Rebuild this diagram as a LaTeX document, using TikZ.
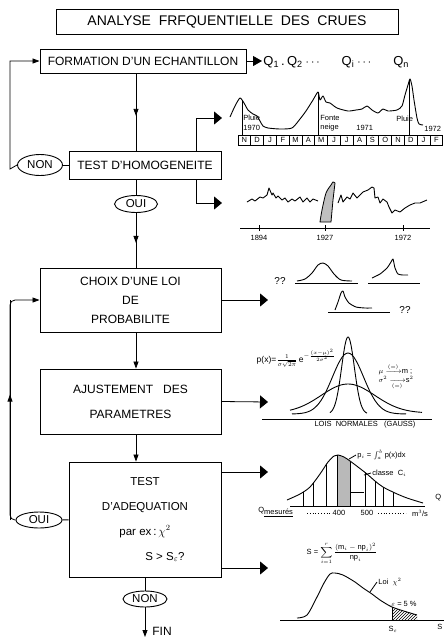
\documentclass[tikz,border=0pt]{standalone}
\usepackage{amsmath}
\usepackage{fontspec}
\setmainfont{Liberation Sans}
\usetikzlibrary{arrows.meta,shapes.geometric,decorations.markings,patterns}
\tikzset{
  box/.style={draw,line width=0.9pt,align=center,inner sep=0pt,font=\fontsize{12}{19}\selectfont},
  yesno/.style={draw,ellipse,line width=0.9pt,inner sep=0pt,font=\fontsize{11.5}{12}\selectfont},
  tip/.style={-{Triangle[length=7pt,width=5pt]}},
  bigtip/.style={-{Triangle[length=8pt,width=13pt]}},
  midtip/.style={postaction={decorate},decoration={markings,mark=at position #1 with {\arrow{Triangle[length=7pt,width=5pt]}}}},
  small/.style={inner sep=0pt,font=\fontsize{7.5}{8}\selectfont},
  curve/.style={line width=0.9pt,line join=round},
}
\begin{document}
\begin{tikzpicture}[x=1pt,y=-1pt,line width=0.8pt]
  \useasboundingbox (0,0) rectangle (444,641);
  \node[box,minimum width=342pt,minimum height=25pt,font=\fontsize{14}{16}\selectfont] (titre) at (227,21.5) {ANALYSE\ \ FRFQUENTIELLE\ \ DES\ \ CRUES};
  \node[box,minimum width=206pt,minimum height=24pt] (form) at (143,61) {FORMATION D'UN ECHANTILLON};
  \node[anchor=west,inner sep=1pt,font=\fontsize{13}{14}\selectfont] (qs) at (262,62) {Q\textsubscript{1}\,.\,Q\textsubscript{2}\hspace{3pt}$\cdots$\hspace{20pt}Q\textsubscript{i}\hspace{3pt}$\cdots$\hspace{20pt}Q\textsubscript{n}};
  \node[box,minimum width=152pt,minimum height=28pt] (homog) at (145,165) {TEST D'HOMOGENEITE};
  \node[yesno,minimum width=45pt,minimum height=21pt] (non1) at (40,165) {NON};
  \node[yesno,minimum width=43pt,minimum height=17pt] (oui1) at (136,204) {OUI};
  \node[box,minimum width=181pt,minimum height=64pt] (choix) at (130.5,300) {CHOIX D'UNE LOI\\DE\\PROBABILITE};
  \node[box,minimum width=181pt,minimum height=65pt,font=\fontsize{12}{25}\selectfont] (ajust) at (130.5,401.5) {AJUSTEMENT\ \ \ DES\\PARAMETRES};
  \node[box,minimum width=152pt,minimum height=115pt,font=\fontsize{11.5}{25}\selectfont] (adeq) at (145,519.5) {TEST\\D'ADEQUATION\\par ex\,:\,$\chi^2$\hspace{28pt}\\\hspace{40pt}S > S$_{\varepsilon}$?};
  \node[yesno,minimum width=46pt,minimum height=16pt] (oui2) at (39,520) {OUI};
  \node[yesno,minimum width=44pt,minimum height=16pt] (non2) at (145,599) {NON};
  \node[anchor=west,inner sep=0pt,font=\fontsize{12}{14}\selectfont] (fin) at (152,631) {FIN};
  \coordinate (finpt) at (145,637);
  \coordinate (g1) at (10,61);
  \coordinate (g2) at (10,300);
  \coordinate (g3) at (10,520);
  \coordinate (h1) at (196,118);
  \coordinate (h2) at (196,203);
  \coordinate (c1) at (222,118);
  \coordinate (c2) at (222,203);
  \coordinate (c3) at (268,300);
  \coordinate (c4) at (268,402);
  \coordinate (c5) at (268,472);
  \coordinate (c6) at (268,568);
  \draw[midtip=0.55] (form.south -| oui1) -- (homog.north -| oui1);
  \draw (homog.south -| oui1) -- (oui1);
  \draw[midtip=0.55] (oui1) -- (choix.north -| oui1);
  \draw[tip] (choix.south -| oui1) -- (ajust.north -| oui1);
  \draw[tip] (ajust.south -| oui1) -- (adeq.north -| oui1);
  \draw (adeq.south -| non2) -- (non2);
  \draw[tip] (non2) -- (finpt);
  \draw (non1) -- (homog);
  \draw (oui2) -- (adeq);
  \draw[tip] (non1.west) -- ([yshift=-4pt]g1 |- non1.west) to[out=90,in=-90] (g1) -- (form.west);
  \draw[tip,rounded corners=5pt] (oui2.west) -| (g2) -- (choix.west);
  \draw[midtip=0.57] (g3) -- (g2);
  \draw[-{Triangle[length=9pt,width=10pt]}] (form.east) -- (qs.west |- form.east);
  \draw[bigtip] (homog.north -| h1) -- (h1) -- (c1);
  \draw[bigtip] (homog.south -| h2) -- (h2) -- (c2);
  \draw[bigtip] (choix.east) -- (c3);
  \draw[bigtip] (ajust.east) -- (c4);
  \draw[bigtip] (adeq.east |- c5) -- (c5);
  \draw[bigtip] (adeq.east |- c6) -- (c6);
  % hydrogramme
  \draw[curve] plot[smooth,tension=0.4] coordinates {(230,117) (235,106) (240,98) (244,103) (248,110) (253,114) (257,116) (260,121) (263,126) (268,128) (280,129) (292,128) (300,119) (306,111) (313,100) (318,92) (320,100) (323,96) (326,102) (330,103) (337,108) (348,111) (356,110) (362,109) (367,106) (372,110) (378,113) (383,109) (388,111) (397,110) (402,106) (405,95) (408,85) (410,79) (412,86) (414,100) (417,118) (419,124) (423,125)};
  \foreach \m [count=\i from 0] in {N,D,J,F,M,A,M,J,J,A,S,O,N,D,J,F} {
    \draw (238+\i*12.8,135) rectangle ++(12.8,10);
    \node[small] at (244.4+\i*12.8,140) {\m};
  }
  \foreach \xm/\ym in {242/100,318/92,409/80} \draw (\xm,\ym) -- (\xm,135);
  \node[small,anchor=west] at (243,118) {Pluie};
  \node[small,anchor=west] at (243,128) {1970};
  \node[small,anchor=west] at (320,118) {Fonte};
  \node[small,anchor=west] at (320,128) {neige};
  \node[small,anchor=west] at (356,128) {1971};
  \node[small,anchor=west] at (396,119) {Pluie};
  \node[small,anchor=west] at (424,129) {1972};
  % serie chronologique
  \draw (240,228) -- (430,228);
  \foreach \xa/\an in {259/1894,325/1927,403/1972} {
    \draw (\xa,225) -- (\xa,231);
    \node[small] at (\xa,238) {\an};
  }
  \draw[curve] plot coordinates {(247,202) (252,199) (255,201) (260,197) (263,198) (267,195) (269,188) (272,195) (273,193) (276,198) (278,196) (282,200) (285,198) (288,202) (292,199) (295,201) (300,197) (303,202) (307,198) (310,202) (313,199) (318,201)};
  \draw[fill=gray!50] plot[smooth,tension=0.5] coordinates {(320,222) (322,210) (326,193) (331,185) (333,182) (335,183)} -- (333,200) -- (331,222) -- cycle;
  \draw[curve] plot coordinates {(338,203) (341,195) (343,202) (347,197) (350,199) (353,193) (357,198) (360,195) (363,192) (368,190) (372,187) (374,188) (375,198) (378,197) (380,203) (383,199) (387,202) (389,207) (392,213) (395,210) (400,212) (405,208) (410,205) (415,203) (420,203) (427,200)};
  % lois possibles
  \node[inner sep=0pt,font=\fontsize{10}{11}\selectfont] at (280,281) {??};
  \draw (295,283) -- (358,283);
  \draw[curve] plot[smooth] coordinates {(297,281) (305,279) (312,273) (318,265) (323,263) (328,266) (334,274) (341,280) (352,281)};
  \draw (368,283) -- (420,283);
  \draw[curve] plot[smooth,tension=0.4] coordinates {(372,278) (380,274) (387,268) (391,262) (393,259) (395,268) (398,274) (403,275) (408,275)};
  \draw (328,312) -- (390,312);
  \draw[curve] plot[smooth,tension=0.4] coordinates {(335,310) (338,302) (341,293) (343,291) (345,297) (349,303) (356,307) (365,308) (372,308)};
  \node[inner sep=0pt,font=\fontsize{10}{11}\selectfont] at (405,310) {??};
  % lois normales
  \draw (262,419) -- (432,419);
  \draw[curve] plot[domain=290:422,samples=60,smooth] (\x,{413-29*exp(0-((\x-348)/38)*((\x-348)/38))});
  \draw[curve] plot[domain=292:406,samples=60,smooth] (\x,{414-61*exp(0-((\x-348)/22)*((\x-348)/22))});
  \draw[curve] plot[domain=330:367,samples=50,smooth] (\x,{414-77*exp(0-((\x-348)/9)*((\x-348)/9))});
  \node[small,font=\fontsize{8.5}{9}\selectfont] at (296,358) {p(x)=$\frac{1}{\sigma\sqrt{2\pi}}$\,e$^{-\frac{(x-\mu)^2}{2\sigma^2}}$};
  \node[small,align=left] at (396,377) {$\mu\xrightarrow{(=)}$m\ ;\\[1pt]$\sigma^2\xrightarrow[(=)]{}$s$^2$};
  \node[small] at (365,425) {LOIS\ \ NORMALES\ \ \ (GAUSS)};
  % ajustement
  \begin{scope}
    \clip plot[smooth] coordinates {(287,500) (300,494) (310,487) (320,474) (328,462) (334,456) (338,455) (344,457) (350,461) (358,467) (367,474) (375,481) (383,487) (395,493) (407,498) (423,503)} -- (423,506) -- (287,506) -- cycle;
    \fill[gray!55] (337,440) rectangle (350,506);
    \foreach \xc in {303,313,326,337,350,365,375,383,393} \draw (\xc,440) -- (\xc,506);
  \end{scope}
  \draw[curve] plot[smooth] coordinates {(287,500) (300,494) (310,487) (320,474) (328,462) (334,456) (338,455) (344,457) (350,461) (358,467) (367,474) (375,481) (383,487) (395,493) (407,498) (423,503)};
  \draw (290,506) -- (425,506);
  \draw (351,492) -- (364,492);
  \draw (349,459) -- (356,455);
  \node[small,anchor=west] at (357,455) {p$_i$ = $\int_a^b$ p(x)dx};
  \draw (364,475) -- (371,473);
  \node[small,anchor=west] at (372,473) {classe\ \ C$_i$};
  \node[small,anchor=west] at (435,498) {Q};
  \node[small,anchor=west] at (258,512) {Q\raisebox{-1.5pt}{\underline{mesurés}}};
  \draw[dotted] (307,513) -- (331,513);
  \node[small] at (339,513) {400};
  \node[small] at (367,513) {500};
  \draw[dotted] (378,513) -- (406,513);
  \node[small] at (420,513) {m$^3$/s};
  % test du khi2
  \node[small] at (342,553) {S = $\displaystyle\sum_{i=1}^{r}\frac{(\mathrm{m}_i-\mathrm{np}_i)^2}{\mathrm{np}_i}$};
  \begin{scope}
    \clip plot[smooth] coordinates {(297,618) (307,615) (317,597) (324,583) (330,574) (335,573) (343,575) (355,582) (363,588) (372,594) (380,600) (392,607) (407,612) (417,615)} -- (417,620) -- (297,620) -- cycle;
    \fill[pattern=north east lines] (392,590) rectangle (420,620);
  \end{scope}
  \draw[curve] plot[smooth] coordinates {(297,618) (307,615) (317,597) (324,583) (330,574) (335,573) (343,575) (355,582) (363,588) (372,594) (380,600) (392,607) (407,612) (417,615)};
  \draw (280,620) -- (444,620);
  \draw (392,607) -- (392,620);
  \node[small] at (393,629) {S$_{\varepsilon}$};
  \node[small,anchor=west] at (437,627) {S};
  \draw (370,592) -- (377,582);
  \node[small,anchor=west] at (378,582) {Loi\ \ $\chi^2$};
  \node[small,anchor=west] at (391,604) {$\varepsilon$ = 5 \%};
\end{tikzpicture}
\end{document}
